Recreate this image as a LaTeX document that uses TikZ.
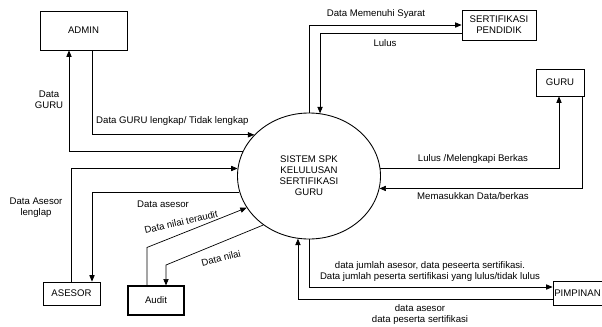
\documentclass[tikz,border=0pt]{standalone}
\usepackage{fontspec}
\setmainfont{Liberation Sans}
\usepackage{tikz}
\usetikzlibrary{arrows.meta,shapes.geometric}

\begin{document}
\begin{tikzpicture}[x=0.03cm,y=-0.03cm,>={Triangle[length=5.5pt,width=4.5pt]},
  every node/.style={font=\fontsize{8.2}{9.4}\selectfont},
  entity/.style={draw,line width=0.75pt,inner sep=0pt,align=center},
  flow/.style={->,line width=0.6pt},
  lbl/.style={inner sep=0pt,align=center}]
  \useasboundingbox (0,0) rectangle (602,326);
  \node[entity,minimum width=2.61cm,minimum height=1.17cm] (admin) at (83.5,30.5) {ADMIN};
  \node[entity,minimum width=2.22cm,minimum height=0.9cm] (sert) at (499,25) {SERTIFIKASI\\PENDIDIK};
  \node[entity,minimum width=1.44cm,minimum height=0.81cm] (guru) at (560,82.5) {GURU};
  \node[entity,minimum width=1.71cm,minimum height=0.69cm] (asesor) at (71.5,293.5) {ASESOR};
  \node[entity,line width=0.95pt,minimum width=1.68cm,minimum height=0.87cm] (audit) at (156,300.5) {Audit};
  \node[entity,minimum width=1.47cm,minimum height=0.72cm] (pimp) at (577.5,293) {PIMPINAN};
  \node[entity,ellipse,minimum width=4.29cm,minimum height=3.78cm] (sys) at (309,176)
    {SISTEM SPK\\KELULUSAN\\SERTIFIKASI\\GURU};

  \draw[flow] (admin.south -| 92,0) |- (sys.143);
  \draw[flow] (sys.160) -| (admin.south -| 69,0);
  \draw[flow] (sys.90) |- (sert.west);
  \draw[flow] (sert.west |- 0,33) -| (sys.80);
  \draw[flow] (sys.6) -| (guru.south -| 559,0);
  \draw[flow] (guru.south -| 582,0) |- (sys.350);
  \draw[flow] (asesor.north -| 71,0) |- (sys.174);
  \draw[flow] (sys.193) -| (asesor.north -| 92,0);
  \draw[flow] (audit.north -| 147,0) -- ++(0,-38) -- (sys.207);
  \draw[flow] (sys.227) -- (166,265) -- (audit.north -| 166,0);
  \draw[flow] (sys.270) |- (pimp.west |- 0,287);
  \draw[flow] (pimp.west |- 0,299) -| (sys.260);

  % labels
  \node[lbl] (tDataGuru) at (49,100) {Data\\GURU};
  \node[lbl,anchor=west] (tLengkap) at (96,121) {Data GURU lengkap/ Tidak lengkap};
  \node[lbl] (tSyarat) at (376,14) {Data Memenuhi Syarat};
  \node[lbl] (tLulus) at (385,43) {Lulus};
  \node[lbl] (tBerkas) at (473,159) {Lulus /Melengkapi Berkas};
  \node[lbl] (tMasuk) at (473,196) {Memasukkan Data/berkas};
  \node[lbl] (tAsesorL) at (36,208) {Data Asesor\\lenglap};
  \node[lbl] (tAsesor) at (163,204) {Data asesor};
  \node[lbl,rotate=13] (tTeraudit) at (181,222) {Data nilai teraudit};
  \node[lbl,rotate=14] (tNilai) at (221,258) {Data nilai};
  \node[lbl] (tJumlah) at (430,272) {data jumlah asesor, data peseerta sertifikasi.\\Data jumlah peserta sertifikasi yang lulus/tidak lulus};
  \node[lbl] (tPeserta) at (420,314.5) {data asesor\\data peserta sertifikasi};
\end{tikzpicture}
\end{document}
